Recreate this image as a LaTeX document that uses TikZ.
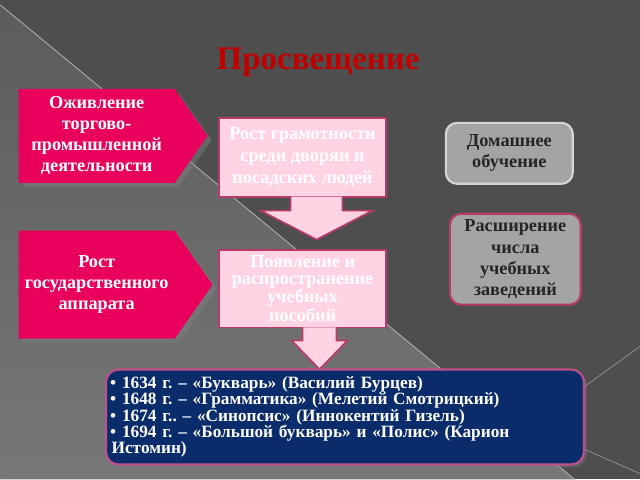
\documentclass[tikz,border=0pt]{standalone}
\usepackage{fontspec}
\setmainfont{Liberation Serif}
\usetikzlibrary{positioning, shapes.symbols, shadows, calc}
\frenchspacing

\definecolor{fondgris}{HTML}{4E4E4E}
\definecolor{fondclair}{HTML}{5C5C5C}
\definecolor{fondbas}{HTML}{777777}
\definecolor{framboise}{HTML}{E8005C}
\definecolor{roseclair}{HTML}{FFD3E4}
\definecolor{bordrose}{HTML}{B83A6A}
\definecolor{grismoyen}{HTML}{A4A4A4}
\definecolor{bordgris}{HTML}{D6D6D6}
\definecolor{bleunuit}{HTML}{0B2C6B}
\definecolor{bordbleu}{HTML}{C0508A}
\definecolor{rougetitre}{HTML}{C00000}

\begin{document}
\begin{tikzpicture}[x=0.025cm, y=-0.025cm,
    pentbox/.style={signal, signal to=east, signal pointer angle=110,
        fill=framboise, text=white, align=center, inner sep=2pt,
        font=\fontsize{13}{15}\selectfont\bfseries,
        drop shadow={shadow xshift=3pt, shadow yshift=-3pt, opacity=0.45}},
    rosebox/.style={rectangle, fill=roseclair, draw=bordrose, line width=1.2pt,
        text=white, align=center, inner sep=2pt,
        minimum width=4.175cm},
    fleche/.style={fill=roseclair, draw=bordrose, line width=1.2pt, line join=miter},
    grisbox/.style={rectangle, rounded corners=8pt, fill=grismoyen, line width=1.5pt,
        text=black!85, align=center, inner sep=2pt,
        font=\fontsize{13}{15}\selectfont\bfseries},
    listebox/.style={rectangle, rounded corners=9pt, fill=bleunuit, draw=bordbleu,
        line width=1.5pt, text=white, align=left, inner sep=3pt,
        minimum width=11.95cm, minimum height=2.375cm, text width=11.75cm,
        font=\fontsize{12.3}{11.6}\selectfont\bfseries,
        drop shadow={shadow xshift=2pt, shadow yshift=-2pt, opacity=0.35}}]

    % fond
    \fill[fondgris] (0,0) rectangle (640,480);
    \shade[top color=fondclair, bottom color=fondbas] (0,5) -- (575,480) -- (0,480) -- cycle;
    \draw[white!55!fondgris, line width=0.6pt] (0,5) -- (575,480);
    \draw[white!40!fondgris, line width=0.5pt] (640,347) -- (560,405);
    \draw[white!40!fondgris, line width=0.5pt] (585,450) -- (640,474);

    % titre
    \node[text=rougetitre, font=\fontsize{23.5}{26}\selectfont\bfseries] (titre) at (318,62) {Просвещение};

    % causes
    \node[pentbox, minimum width=4.725cm, minimum height=2.35cm, anchor=west] (ozhivl) at (18,136)
        {Оживление\\торгово-\\промышленной\\деятельности};
    \node[pentbox, minimum width=4.85cm, minimum height=2.7cm, anchor=west] (gosapp) at (18,285)
        {Рост\\государственного\\аппарата};

    % centre
    \node[rosebox, minimum height=1.975cm, font=\fontsize{13}{15.5}\selectfont\bfseries] (gramot) at (302.5,157.5)
        {Рост грамотности\\среди дворян и\\посадских людей};
    \node[rosebox, minimum height=1.95cm, font=\fontsize{13}{12}\selectfont\bfseries] (posob) at (302.5,289)
        {Появление и\\распространение\\учебных\\пособий};

    % fleches
    \filldraw[fleche] ($(gramot.south)+(-12,-1)$) -- ($(gramot.south)+(-12,13)$) -- ($(gramot.south)+(-42,13)$)
        -- ($(gramot.south)+(14,42)$) -- ($(gramot.south)+(70,13)$) -- ($(gramot.south)+(40,13)$)
        -- ($(gramot.south)+(40,-1)$);
    \filldraw[fleche] ($(posob.south)+(0,-1)$) -- ($(posob.south)+(0,12)$) -- ($(posob.south)+(-11,12)$)
        -- ($(posob.south)+(17,41)$) -- ($(posob.south)+(45,12)$) -- ($(posob.south)+(34,12)$)
        -- ($(posob.south)+(34,-1)$);

    % droite
    \node[grisbox, draw=bordgris, minimum width=3.175cm, minimum height=1.525cm] (domash) at (509.5,153.5)
        {Домашнее\\обучение};
    \node[grisbox, draw=bordrose, minimum width=3.275cm, minimum height=2.275cm] (rasshir) at (515.5,259.5)
        {Расширение\\числа\\учебных\\заведений};

    % liste
    \node[listebox] (izdan) at (345,417.5)
        {• 1634 г. – «Букварь» (Василий Бурцев)\\
         • 1648 г. – «Грамматика» (Мелетий Смотрицкий)\\
         • 1674 г.. – «Синопсис» (Иннокентий Гизель)\\
         • 1694 г. – «Большой букварь» и «Полис» (Карион\\
         \hspace{1pt}Истомин)};

\end{tikzpicture}
\end{document}
